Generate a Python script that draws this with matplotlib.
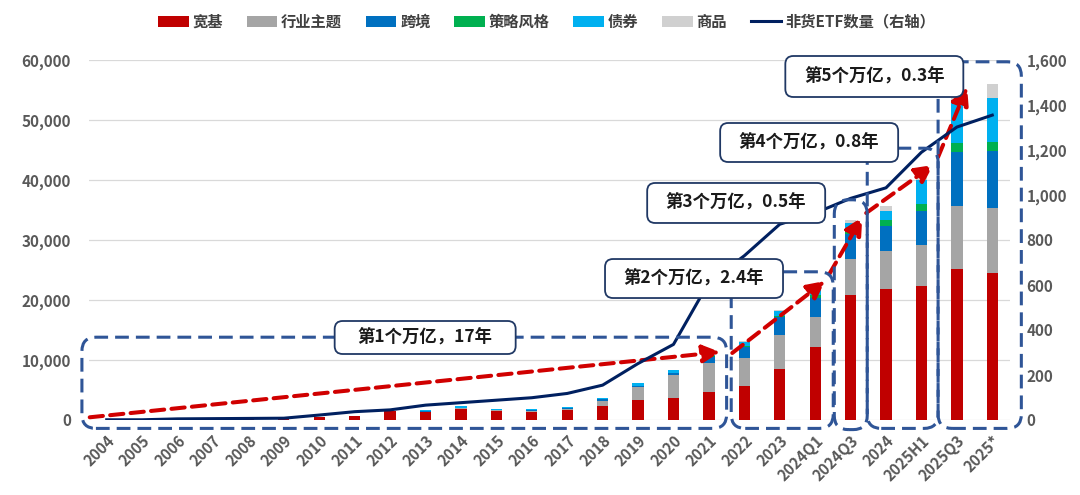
import matplotlib.pyplot as plt
import matplotlib.ticker as mticker
from matplotlib.patches import FancyBboxPatch
from matplotlib.transforms import IdentityTransform
import numpy as np

plt.rcParams['font.family'] = ['Noto Sans CJK SC', 'DejaVu Sans']

# 数据（亿元 / 只）
categories = ['2004', '2005', '2006', '2007', '2008', '2009', '2010', '2011', '2012',
              '2013', '2014', '2015', '2016', '2017', '2018', '2019', '2020', '2021',
              '2022', '2023', '2024Q1', '2024Q3', '2024', '2025H1', '2025Q3', '2025*']
kuanji = [50, 40, 90, 250, 200, 250, 450, 650, 1500, 1280, 1780, 1500, 1330, 1670, 2390,
          3330, 3720, 4720, 5670, 8440, 12110, 20830, 21890, 22330, 25110, 24440]
hangye = [0, 0, 0, 0, 0, 0, 0, 0, 30, 100, 170, 110, 170, 170, 830,
          2110, 3780, 4830, 4720, 5670, 5110, 5940, 6220, 6780, 10610, 10950]
kuajing = [0, 0, 0, 0, 0, 0, 0, 0, 20, 60, 50, 110, 110, 110, 220,
           220, 280, 1000, 1830, 3110, 3170, 4170, 4280, 5720, 9000, 9500]
celue = [0, 0, 0, 0, 0, 0, 0, 20, 20, 10, 10, 10, 10, 10, 20,
         30, 40, 50, 110, 110, 390, 720, 890, 1170, 1390, 1500]
zhaiquan = [0, 0, 0, 0, 0, 0, 0, 0, 0, 170, 280, 170, 280, 220, 220,
            440, 440, 280, 670, 890, 1000, 1220, 1610, 4000, 7220, 7330]
shangpin = [0, 0, 0, 0, 0, 0, 0, 0, 0, 0, 0, 0, 0, 0, 0,
            0, 0, 0, 110, 170, 280, 440, 830, 1500, 1800, 2280]
etf_count = [1, 1, 5, 6, 7, 8, 22, 37, 45, 66, 77, 88, 99, 118, 155,
             251, 336, 612, 730, 870, 920, 985, 1032, 1190, 1302, 1355]

series_names = ['宽基', '行业主题', '跨境', '策略风格', '债券', '商品']
series_values = [kuanji, hangye, kuajing, celue, zhaiquan, shangpin]
colors = ['#C00000', '#A5A5A5', '#0070C0', '#00B050', '#00B0F0', '#D0D0D0']

# 分段框（类别序号范围，左轴数值范围）
groups = [(-0.7, 17.5, -1400, 13800),
          (17.63, 20.51, -1400, 24700),
          (20.54, 21.47, -1600, 36700),
          (21.47, 23.47, -1400, 45300),
          (23.47, 25.82, -1400, 59700)]
box_texts = ['第1个万亿，17年', '第2个万亿，2.4年', '第3个万亿，0.5年',
             '第4个万亿，0.8年', '第5个万亿，0.3年']
box_centers = [(8.99, 13750), (16.58, 23580), (17.77, 36170), (19.83, 46250), (21.67, 57250)]
box_sizes = [(181, 33), (178, 39), (178, 40), (178, 39), (178, 41)]
arrows = [((-0.48, 450), (17.32, 11330)),
          ((17.66, 11170), (20.28, 23170)),
          ((20.40, 24330), (21.33, 33830)),
          ((21.44, 34500), (23.33, 42500)),
          ((23.47, 43830), (24.29, 55500))]

fig = plt.figure(figsize=(10.8, 4.95), dpi=100)
ax = fig.add_axes([89 / 1080, 75 / 495, 921 / 1080, 360 / 495])
ax2 = ax.twinx()

x = np.arange(len(categories))
bottom = np.zeros(len(categories))
handles = []
for name, vals, c in zip(series_names, series_values, colors):
    b = ax.bar(x, vals, width=0.32, bottom=bottom, color=c, label=name, zorder=2)
    bottom += np.array(vals)
    handles.append(b)

line, = ax2.plot(x, etf_count, color='#002060', lw=2.2, label='非货ETF数量（右轴）', zorder=3)
handles.append(line)

ax.set_xlim(-0.5, len(categories) - 0.5)
ax.set_ylim(0, 60000)
ax2.set_ylim(0, 1600)
ax.set_yticks(range(0, 60001, 10000))
ax2.set_yticks(range(0, 1601, 200))
fmt = mticker.FuncFormatter(lambda v, p: f'{int(v):,}')
ax.yaxis.set_major_formatter(fmt)
ax2.yaxis.set_major_formatter(fmt)

ax.set_xticks(x)
ax.set_xticklabels(categories)
for lbl in ax.get_xticklabels():
    lbl.set_rotation(45)
    lbl.set_ha('right')
    lbl.set_va('top')
    lbl.set_rotation_mode('anchor')

tick_color = '#595959'
ax.tick_params(axis='x', length=0, pad=9, labelsize=11, labelcolor=tick_color)
ax.tick_params(axis='y', length=0, pad=13, labelsize=11, labelcolor=tick_color)
ax2.tick_params(axis='y', length=0, pad=12, labelsize=11, labelcolor=tick_color)
for a in (ax, ax2):
    for lbl in a.get_xticklabels() + a.get_yticklabels():
        lbl.set_fontweight('bold')
    for s in a.spines.values():
        s.set_visible(False)

ax.yaxis.grid(True, color='#D9D9D9', lw=0.9)
ax.set_axisbelow(True)

# 红色虚线箭头
red = '#D00000'
for (x0, y0), (x1, y1) in arrows:
    ax.annotate('', xy=(x1, y1), xytext=(x0, y0), annotation_clip=False,
                arrowprops=dict(arrowstyle='-|>,head_length=0.75,head_width=0.38',
                                mutation_scale=14, color=red, lw=2.9,
                                linestyle=(0, (3.3, 1.8)), shrinkA=0, shrinkB=0),
                zorder=6)

# 虚线分段框
for x0, x1, y0, y1 in groups:
    (px0, py0), (px1, py1) = ax.transData.transform([(x0, y0), (x1, y1)])
    fig.add_artist(FancyBboxPatch((px0, py0), px1 - px0, py1 - py0,
                                  boxstyle='round,pad=0,rounding_size=14',
                                  fill=False, ec='#2F5597', lw=2.2,
                                  ls=(0, (4.5, 2.3)), transform=IdentityTransform(),
                                  zorder=5))

# 文本框
for txt, (cx, cy), (w, h) in zip(box_texts, box_centers, box_sizes):
    px, py = ax.transData.transform((cx, cy))
    fig.add_artist(FancyBboxPatch((px - w / 2, py - h / 2), w, h,
                                  boxstyle='round,pad=0,rounding_size=8',
                                  fc='white', ec='#203864', lw=1.3,
                                  transform=IdentityTransform(), zorder=8))
    fig.text(px, py, txt, transform=IdentityTransform(), ha='center', va='center',
             fontsize=12.5, fontweight='bold', color='#1A1A1A', zorder=9)

leg = fig.legend(handles=handles, loc='center', bbox_to_anchor=(0.506, 0.956), ncol=7,
                 frameon=False, fontsize=11, handlelength=2.0, handletextpad=0.25,
                 columnspacing=1.55)
for t in leg.get_texts():
    t.set_color('#404040')
    t.set_fontweight('bold')

fig.savefig('out.png', dpi=100)
